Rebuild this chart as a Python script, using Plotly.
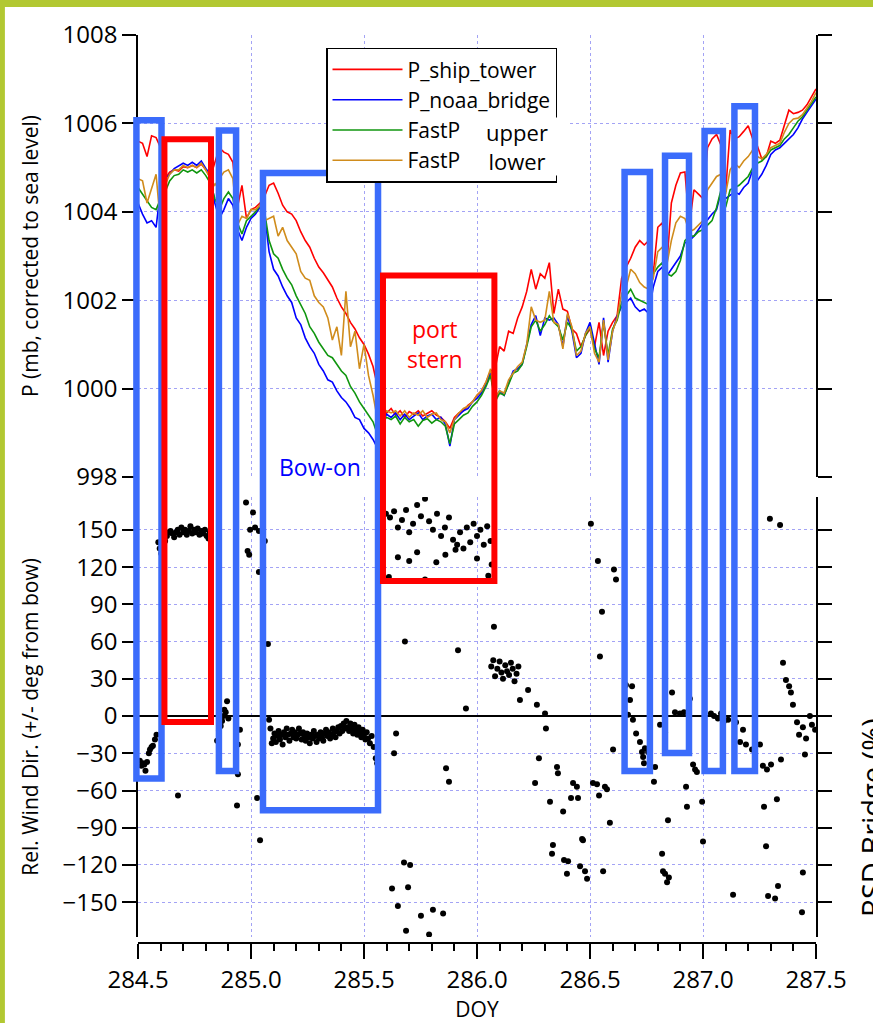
import plotly.graph_objects as go

# ---------------- data ----------------
doy = [284.50, 284.52, 284.54, 284.56, 284.58, 284.60, 284.62, 284.64, 284.66, 284.68,
       284.70, 284.72, 284.74, 284.76, 284.78, 284.80, 284.82, 284.84, 284.86, 284.88,
       284.90, 284.92, 284.94, 284.96, 284.98, 285.00, 285.02, 285.04, 285.06, 285.08,
       285.10, 285.12, 285.14, 285.16, 285.18, 285.20, 285.22, 285.24, 285.26, 285.28,
       285.30, 285.32, 285.34, 285.36, 285.38, 285.40, 285.42, 285.44, 285.46, 285.48,
       285.50, 285.52, 285.54, 285.56, 285.58, 285.60, 285.62, 285.64, 285.66, 285.68,
       285.70, 285.72, 285.74, 285.76, 285.78, 285.80, 285.82, 285.84, 285.86, 285.88,
       285.90, 285.92, 285.94, 285.96, 285.98, 286.00, 286.02, 286.04, 286.06, 286.08,
       286.10, 286.12, 286.14, 286.16, 286.18, 286.20, 286.22, 286.24, 286.26, 286.28,
       286.30, 286.32, 286.34, 286.36, 286.38, 286.40, 286.42, 286.44, 286.46, 286.48,
       286.50, 286.52, 286.54, 286.56, 286.58, 286.60, 286.62, 286.64, 286.66, 286.68,
       286.70, 286.72, 286.74, 286.76, 286.78, 286.80, 286.82, 286.84, 286.86, 286.88,
       286.90, 286.92, 286.94, 286.96, 286.98, 287.00, 287.02, 287.04, 287.06, 287.08,
       287.10, 287.12, 287.14, 287.16, 287.18, 287.20, 287.22, 287.24, 287.26, 287.28,
       287.30, 287.32, 287.34, 287.36, 287.38, 287.40, 287.42, 287.44, 287.46, 287.48,
       287.50]

p_ship_tower = [1005.60, 1005.55, 1005.25, 1005.72, 1005.68, 1005.45, 1004.75, 1004.90, 1004.95, 1004.92,
                1005.02, 1005.00, 1005.05, 1005.00, 1005.08, 1004.95, 1004.78, 1005.10, 1005.45, 1005.35,
                1005.30, 1005.12, 1004.10, 1004.60, 1003.85, 1004.05, 1004.10, 1004.20, 1004.35, 1004.60,
                1004.65, 1004.42, 1004.15, 1004.00, 1003.95, 1003.80, 1003.55, 1003.35, 1003.20, 1002.95,
                1002.75, 1002.62, 1002.45, 1002.30, 1002.05, 1001.85, 1001.70, 1001.50, 1001.35, 1001.15,
                1001.00, 1000.78, 1000.50, 1000.05, 999.60, 999.45, 999.55, 999.40, 999.50, 999.35,
                999.48, 999.42, 999.50, 999.38, 999.45, 999.50, 999.40, 999.35, 999.25, 999.10,
                999.35, 999.45, 999.50, 999.62, 999.70, 999.85, 999.95, 1000.15, 1000.40, 1000.45,
                1000.95, 1000.85, 1001.30, 1001.25, 1001.60, 1001.85, 1002.20, 1002.70, 1002.25, 1002.60,
                1002.50, 1002.85, 1001.70, 1002.25, 1001.80, 1001.75, 1001.35, 1001.25, 1000.95, 1001.20,
                1001.35, 1000.95, 1001.50, 1000.75, 1001.30, 1001.50, 1001.65, 1002.50, 1002.75, 1002.95,
                1003.20, 1003.35, 1003.25, 1003.35, 1002.60, 1003.65, 1003.75, 1002.80, 1004.20, 1004.60,
                1004.88, 1004.90, 1003.70, 1004.50, 1004.40, 1004.30, 1005.45, 1005.65, 1005.75, 1005.50,
                1004.45, 1005.85, 1005.65, 1005.70, 1005.82, 1005.95, 1005.65, 1005.50, 1005.20, 1005.25,
                1005.60, 1005.55, 1005.62, 1005.95, 1006.30, 1006.22, 1006.25, 1006.30, 1006.42, 1006.60,
                1006.78]

p_noaa_bridge = [1004.20, 1003.95, 1003.75, 1003.80, 1003.65, 1004.50, 1004.75, 1004.85, 1004.98, 1005.05,
                 1005.10, 1005.05, 1005.12, 1005.05, 1005.15, 1004.98, 1004.85, 1004.20, 1003.85, 1004.05,
                 1004.30, 1004.15, 1003.60, 1003.35, 1003.65, 1003.85, 1003.95, 1004.10, 1003.95, 1003.10,
                 1002.70, 1002.55, 1002.30, 1002.10, 1001.95, 1001.60, 1001.45, 1001.15, 1000.95, 1000.80,
                 1000.55, 1000.40, 1000.20, 1000.15, 999.95, 999.80, 999.70, 999.55, 999.35, 999.30,
                 999.10, 999.00, 998.85, 998.65, 999.20, 999.42, 999.35, 999.45, 999.30, 999.42,
                 999.30, 999.38, 999.45, 999.30, 999.38, 999.42, 999.30, 999.35, 999.20, 998.70,
                 999.30, 999.40, 999.50, 999.55, 999.70, 999.78, 999.90, 1000.10, 1000.35, 999.75,
                 999.95, 999.85, 1000.15, 1000.40, 1000.45, 1000.55, 1001.00, 1001.45, 1001.65, 1001.20,
                 1001.60, 1001.55, 1001.60, 1001.45, 1000.95, 1001.65, 1001.30, 1000.70, 1000.80, 1001.25,
                 1001.50, 1001.00, 1000.55, 1001.60, 1000.60, 1001.30, 1001.65, 1001.85, 1001.95, 1002.05,
                 1001.85, 1001.75, 1001.80, 1001.70, 1002.30, 1002.65, 1002.75, 1002.55, 1002.70, 1002.85,
                 1003.00, 1003.30, 1003.35, 1003.45, 1003.60, 1003.75, 1003.82, 1003.95, 1004.05, 1004.45,
                 1004.30, 1004.38, 1004.45, 1004.40, 1004.55, 1004.65, 1004.95, 1004.70, 1004.85, 1005.05,
                 1005.30, 1005.40, 1005.45, 1005.55, 1005.65, 1005.75, 1005.90, 1006.10, 1006.25, 1006.40,
                 1006.55]

fastp_upper = [1004.55, 1004.40, 1004.25, 1004.10, 1004.05, 1004.30, 1004.45, 1004.70, 1004.82, 1004.85,
               1004.95, 1004.90, 1004.95, 1004.88, 1004.95, 1004.82, 1004.65, 1004.30, 1004.05, 1004.30,
               1004.45, 1004.30, 1003.75, 1003.50, 1003.80, 1003.90, 1004.00, 1004.15, 1004.00, 1003.35,
               1003.05, 1002.95, 1002.70, 1002.50, 1002.35, 1002.10, 1001.90, 1001.70, 1001.40, 1001.25,
               1001.05, 1000.90, 1000.75, 1000.70, 1000.55, 1000.40, 1000.30, 1000.05, 999.90, 999.70,
               999.55, 999.40, 999.25, 998.95, 999.25, 999.35, 999.30, 999.38, 999.20, 999.35,
               999.25, 999.30, 999.15, 999.28, 999.32, 999.22, 999.30, 999.25, 999.15, 998.75,
               999.20, 999.30, 999.40, 999.45, 999.60, 999.70, 999.85, 1000.05, 1000.30, 999.70,
               999.90, 999.85, 1000.10, 1000.35, 1000.40, 1000.55, 1000.95, 1001.40, 1001.55, 1001.30,
               1001.45, 1001.65, 1001.50, 1001.40, 1001.10, 1001.50, 1001.35, 1000.85, 1000.95, 1001.20,
               1001.40, 1000.90, 1000.70, 1001.50, 1000.75, 1001.35, 1001.55, 1001.95, 1002.10, 1002.25,
               1002.05, 1002.00, 1001.95, 1001.90, 1002.60, 1002.75, 1002.85, 1002.60, 1002.55, 1002.65,
               1002.90, 1003.35, 1003.45, 1003.45, 1003.55, 1003.60, 1003.70, 1003.80, 1004.10, 1004.50,
               1004.10, 1004.50, 1004.55, 1004.60, 1004.70, 1004.80, 1005.00, 1005.10, 1005.15, 1005.25,
               1005.40, 1005.45, 1005.50, 1005.65, 1005.75, 1005.90, 1006.05, 1006.15, 1006.30, 1006.45,
               1006.60]

fastp_lower = [1004.75, 1004.70, 1004.20, 1004.55, 1004.85, 1003.70, 1004.60, 1004.85, 1004.95, 1004.95,
               1005.05, 1005.00, 1005.05, 1005.00, 1005.10, 1004.95, 1004.75, 1004.60, 1004.75, 1004.90,
               1004.95, 1004.75, 1003.70, 1003.90, 1003.85, 1004.05, 1004.05, 1004.15, 1003.80, 1003.85,
               1003.90, 1003.45, 1003.65, 1003.35, 1003.20, 1003.05, 1002.65, 1002.50, 1002.45, 1002.10,
               1001.95, 1001.85, 1001.60, 1001.10, 1001.40, 1000.75, 1002.20, 1000.95, 1001.30, 1000.45,
               1001.00, 1000.30, 999.85, 999.30, 999.35, 999.50, 999.45, 999.50, 999.38, 999.50,
               999.35, 999.45, 999.40, 999.50, 999.35, 999.42, 999.45, 999.30, 999.25, 999.00,
               999.30, 999.45, 999.55, 999.60, 999.70, 999.85, 999.95, 1000.15, 1000.45, 999.80,
               999.95, 999.90, 1000.20, 1000.35, 1000.50, 1000.60, 1001.00, 1001.85, 1001.55, 1001.50,
               1001.55, 1002.20, 1001.50, 1001.45, 1000.90, 1001.70, 1001.40, 1000.75, 1000.85, 1001.25,
               1001.40, 1000.80, 1000.60, 1001.55, 1000.65, 1001.30, 1001.60, 1002.15, 1002.30, 1002.70,
               1002.60, 1002.40, 1002.30, 1002.25, 1002.50, 1003.10, 1003.20, 1002.80, 1003.35, 1003.75,
               1003.90, 1003.85, 1003.55, 1003.60, 1003.70, 1003.80, 1004.50, 1004.65, 1004.80, 1004.85,
               1004.40, 1004.95, 1005.10, 1005.00, 1005.15, 1005.25, 1005.40, 1005.25, 1005.20, 1005.30,
               1005.45, 1005.50, 1005.55, 1005.80, 1006.00, 1006.10, 1006.12, 1006.20, 1006.35, 1006.50,
               1006.70]

# relative wind direction (deg from bow)
wd_doy = [284.508, 284.515, 284.522, 284.528, 284.533, 284.540, 284.548, 284.553, 284.560, 284.566,
          284.575, 284.582,
          284.590, 284.596, 284.603, 284.612, 284.620, 284.628, 284.636, 284.644, 284.652, 284.660,
          284.668, 284.676, 284.684, 284.692, 284.700, 284.708, 284.716, 284.724, 284.732, 284.740,
          284.748, 284.756, 284.764, 284.772, 284.780, 284.788, 284.796, 284.804, 284.812, 284.818,
          284.677,
          284.850, 284.858, 284.866, 284.872, 284.878, 284.882, 284.888, 284.894, 284.900, 284.951,
          284.942, 284.938, 284.942,
          284.978, 285.009, 284.996, 285.018, 285.035, 284.985, 284.992, 285.061, 285.035, 285.075,
          285.027, 285.040,
          285.080, 285.086, 285.092, 285.098, 285.104, 285.110, 285.116, 285.122, 285.128, 285.134,
          285.140, 285.146, 285.152, 285.158, 285.164, 285.170, 285.176, 285.182, 285.188, 285.194,
          285.200, 285.206, 285.212, 285.218, 285.224, 285.230, 285.236, 285.242, 285.248, 285.254,
          285.260, 285.266, 285.272, 285.278, 285.284, 285.290, 285.296, 285.302, 285.308, 285.314,
          285.320, 285.326, 285.332, 285.338, 285.344, 285.350, 285.356, 285.362, 285.368, 285.374,
          285.380, 285.386, 285.392, 285.398, 285.404, 285.410, 285.416, 285.422, 285.428, 285.434,
          285.440, 285.446, 285.452, 285.458, 285.464, 285.470, 285.476, 285.482, 285.488, 285.494,
          285.500, 285.506, 285.512, 285.518, 285.526, 285.534, 285.543, 285.552, 285.558,
          285.633, 285.642, 285.681,
          285.624, 285.650, 285.677, 285.704, 285.695, 285.686, 285.752, 285.788, 285.805, 285.850,
          285.863, 285.876,
          285.597, 285.615, 285.633, 285.650, 285.668, 285.686, 285.700, 285.717, 285.735, 285.752,
          285.770, 285.788, 285.805, 285.823, 285.841, 285.858, 285.876, 285.894, 285.912, 285.925,
          285.940, 285.955, 285.970, 285.985, 286.000, 286.015, 286.030, 286.045, 286.060,
          285.610, 285.650, 285.700, 285.735, 285.770, 285.820, 285.860, 285.905, 286.000, 286.050,
          286.065,
          285.916, 285.951, 286.075,
          286.063, 286.072, 286.080, 286.090, 286.100, 286.108, 286.115, 286.125, 286.133, 286.142,
          286.150, 286.158, 286.166, 286.175, 286.183,
          286.190, 286.226, 286.265, 286.301, 286.305,
          286.274, 286.257, 286.323, 286.354, 286.358, 286.381, 286.425, 286.442, 286.447, 286.416,
          286.513, 286.531, 286.540, 286.566, 286.575, 286.588, 286.336, 286.332, 286.385, 286.403,
          286.398, 286.465, 286.469, 286.456, 286.478, 286.487, 286.558, 286.602,
          286.730, 286.735, 286.739, 286.788, 286.783, 286.845, 286.819, 286.823, 286.832, 286.849,
          286.841, 286.925, 286.929, 286.956, 286.965, 286.973, 286.996, 287.000, 287.133,
          287.265, 287.283, 287.301, 287.345, 287.270, 287.327, 287.279, 287.288, 287.319, 287.332,
          287.442, 287.438, 287.451,
          286.504, 286.535, 286.553, 286.544, 286.606, 286.615,
          286.659, 286.686, 286.677, 286.668, 286.690, 286.704, 286.721, 286.743, 286.757,
          286.863, 286.876, 286.898, 286.916, 286.938, 286.942, 286.810, 286.832,
          287.035, 287.049, 287.066, 287.080, 287.093, 287.111, 287.146, 287.164, 287.177, 287.190,
          287.217, 287.252,
          287.296, 287.341, 287.354, 287.367, 287.381, 287.389, 287.398, 287.416, 287.425, 287.442,
          287.456, 287.473, 287.482, 287.496]

wd_deg = [-36, -40, -38, -39, -44, -37, -30, -27, -25, -24,
          -19, -15,
          140, 135, 131, 138, 141, 145, 148, 149, 147, 144,
          148, 150, 146, 152, 148, 150, 146, 149, 153, 147,
          150, 148, 151, 146, 149, 147, 150, 145, 143, 148,
          -64,
          -20, -12, -8, -4, 0, 5, 3, 12, -2, -11,
          -23, -72, -47,
          172, 164, 150, 152, 149, 133, 130, 141, 116, 58,
          -66, -100,
          -3, -10, -22, -18, -14, -21, -16, -12, -19, -15,
          -23, -13, -17, -10, -15, -20, -14, -11, -17, -13,
          -18, -15, -10, -14, -19, -13, -16, -20, -14, -17,
          -22, -15, -18, -12, -16, -21, -15, -18, -13, -17,
          -20, -14, -11, -16, -13, -18, -15, -10, -13, -17,
          -12, -9, -14, -8, -12, -6, -10, -4, -9, -12,
          -6, -10, -14, -7, -11, -15, -9, -13, -17, -11,
          -15, -19, -13, -18, -22, -16, -25, -34, -38,
          -30, -14, 60,
          -139, -153, -118, -120, -138, -173, -161, -176, -156, -159,
          -42, -53,
          163, 160, 165, 152, 158, 166, 148, 155, 170, 161,
          175, 157, 150, 163, 145, 152, 160, 142, 138, 148,
          135, 152, 140, 155, 145, 150, 138, 153, 141,
          112, 128, 125, 132, 110, 124, 130, 134, 127, 113,
          122,
          53, 6, 72,
          40, 45, 32, 38, 44, 35, 30, 41, 36, 33,
          43, 38, 28, 34, 40,
          13, 21, 9, 2, -10,
          -34, -54, -69, -41, -46, -77, -54, -57, -66, -66,
          -54, -55, -64, -57, -59, -86, -104, -111, -116, -117,
          -127, -99, -100, -121, -125, -131, -125, -27,
          -29, -33, -38, -41, -53, -84, -111, -125, -127, -130,
          -134, -57, -73, -39, -43, -45, -69, -101, -144,
          -40, -43, -39, -35, -73, -67, -105, -145, -147, -137,
          -126, -158, -31,
          155, 125, 84, 48, 118, 110,
          25, 24, 13, 1, -3, -14, -21, -26, -29,
          19, 3, 2, 3, 5, 14, -7, -13,
          2, 0, -2, 2, -4, -3, -5, -21, -11, -23,
          -27, -23,
          159, 154, 43, 29, 24, 19, 9, -5, -15, -9,
          -18, 0, -7, -11]

# highlighted periods: (doy start, doy end, top in mb, bottom in deg)
blue_boxes = [(284.493, 284.604, 1006.07, -50.3),
              (284.858, 284.934, 1005.84, -44.3),
              (285.053, 285.562, 1004.88, -76.0),
              (286.653, 286.765, 1004.90, -44.3),
              (286.832, 286.938, 1005.27, -29.8),
              (287.007, 287.088, 1005.83, -44.3),
              (287.139, 287.230, 1006.39, -44.3)]
red_boxes = [(284.617, 284.823, 1005.64, -4.8),
             (285.584, 286.077, 1002.56, 108.8)]

# ---------------- layout geometry ----------------
X_RANGE = [284.5, 287.5]
P_RANGE = [998, 1008]
D_RANGE = [-178, 176.5]
DOM_P = [0.5098, 0.9934]
DOM_D = [0.0066, 0.4880]

def xp(v):
    return (v - X_RANGE[0]) / (X_RANGE[1] - X_RANGE[0])

def yp_p(v):
    return DOM_P[0] + (v - P_RANGE[0]) / (P_RANGE[1] - P_RANGE[0]) * (DOM_P[1] - DOM_P[0])

def yp_d(v):
    return DOM_D[0] + (v - D_RANGE[0]) / (D_RANGE[1] - D_RANGE[0]) * (DOM_D[1] - DOM_D[0])

FONT = "Open Sans"
GRID = "#a3a3f5"

fig = go.Figure()
series = [("P_ship_tower", p_ship_tower, "#ff0000"),
          ("P_noaa_bridge", p_noaa_bridge, "#0000ff"),
          ("FastP", fastp_upper, "#10960f"),
          ("FastP", fastp_lower, "#d08c1c")]
for name, vals, col in series:
    fig.add_trace(go.Scatter(x=doy, y=vals, mode="lines", name=name,
                             line=dict(color=col, width=1.6), xaxis="x", yaxis="y"))

fig.add_trace(go.Scatter(x=wd_doy, y=wd_deg, mode="markers", showlegend=False,
                         marker=dict(color="black", size=6), xaxis="x", yaxis="y2"))

shapes = []
# green frame of the slide
shapes.append(dict(type="rect", xref="paper", yref="paper", x0=-0.21, x1=-0.1963,
                   y0=-0.1, y1=1.04, line=dict(width=0), fillcolor="#b2c832", layer="below"))
shapes.append(dict(type="rect", xref="paper", yref="paper", x0=-0.21, x1=1.1,
                   y0=1.0241, y1=1.04, line=dict(width=0), fillcolor="#b2c832", layer="below"))
for (a, b, top, bot) in blue_boxes:
    shapes.append(dict(type="rect", xref="paper", yref="paper", x0=xp(a), x1=xp(b),
                       y0=yp_d(bot), y1=yp_p(top), line=dict(color="#3b6cfb", width=6.5),
                       fillcolor="rgba(0,0,0,0)", layer="above"))
for (a, b, top, bot) in red_boxes:
    shapes.append(dict(type="rect", xref="paper", yref="paper", x0=xp(a), x1=xp(b),
                       y0=yp_d(bot), y1=yp_p(top), line=dict(color="#ff0000", width=6),
                       fillcolor="rgba(0,0,0,0)", layer="above"))

annotations = [
    dict(text="Bow-on", x=285.305, y=998.23, xref="x", yref="y", showarrow=False,
         font=dict(family=FONT, size=23, color="#0000ff")),
    dict(text="port<br>stern", x=285.814, y=1001.0, xref="x", yref="y", showarrow=False,
         font=dict(family=FONT, size=23, color="#ff0000")),
    dict(text="upper<br>lower", x=0.5597, y=0.8709, xref="paper", yref="paper", showarrow=False,
         xanchor="center", yanchor="middle",
         bgcolor="white", width=100, height=55, borderpad=1, align="center",
         font=dict(family=FONT, size=22, color="black")),
    dict(text="RSD Bridge (%)", x=1.0826, y=0.1368, xref="paper", yref="paper", showarrow=False,
         xanchor="center", yanchor="middle",
         textangle=-90, font=dict(family=FONT, size=29, color="black")),
]

axis_common = dict(showline=True, linecolor="black", linewidth=1.5, ticks="outside",
                   tickcolor="black", tickwidth=1.5, tickfont=dict(family=FONT, size=24, color="black"))

fig.update_layout(
    width=873, height=1023,
    margin=dict(l=138, r=57, t=29, b=80, autoexpand=False),
    paper_bgcolor="white", plot_bgcolor="white",
    font=dict(family=FONT, color="black"),
    shapes=shapes, annotations=annotations,
    legend=dict(x=xp(284.5 + 188 / 226), y=0.9795, xanchor="left", yanchor="top",
                bgcolor="white", bordercolor="black", borderwidth=1.5,
                font=dict(family=FONT, size=21, color="black"), itemwidth=70,
                tracegroupgap=0),
    xaxis=dict(range=X_RANGE, anchor="free", position=0, tickmode="linear", tick0=284.5, dtick=0.5,
               tickformat=".1f", ticklen=15, showgrid=True, gridcolor=GRID, griddash="dot", gridwidth=1,
               zeroline=False, minor=dict(dtick=0.1, tick0=284.5, ticks="outside", ticklen=7,
                                          tickwidth=1.5, tickcolor="black", showgrid=False),
               title=dict(text="DOY", font=dict(family=FONT, size=21), standoff=6),
               automargin=False, **axis_common),
    xaxis2=dict(range=X_RANGE, overlaying="x", side="top", anchor="free", position=1,
                tickmode="linear", tick0=284.5, dtick=0.5, ticklen=15, showticklabels=False,
                showgrid=False, zeroline=False,
                minor=dict(dtick=0.1, tick0=284.5, ticks="outside", ticklen=7, tickwidth=1.5,
                           tickcolor="black", showgrid=False),
                automargin=False, **axis_common),
    yaxis=dict(domain=DOM_P, range=P_RANGE, anchor="x", tickmode="linear", tick0=998, dtick=2,
               ticklen=14, mirror="ticks", showgrid=True, gridcolor=GRID, griddash="dot",
               zeroline=False, automargin=False,
               title=dict(text="P (mb, corrected to sea level)", font=dict(family=FONT, size=21),
                          standoff=18),
               **axis_common),
    yaxis2=dict(domain=DOM_D, range=D_RANGE, anchor="x", tickmode="array",
                tickvals=[-150, -120, -90, -60, -30, 0, 30, 60, 90, 120, 150],
                ticklen=14, mirror="ticks", showgrid=True, gridcolor=GRID, griddash="dot",
                zeroline=True, zerolinecolor="black", zerolinewidth=1.5, automargin=False,
                title=dict(text="Rel. Wind Dir. (+/- deg from bow)", font=dict(family=FONT, size=21),
                           standoff=18),
                **axis_common),
)

fig.write_html("out.html", config={"displayModeBar": False},
               post_script="document.body.style.margin='0';")
